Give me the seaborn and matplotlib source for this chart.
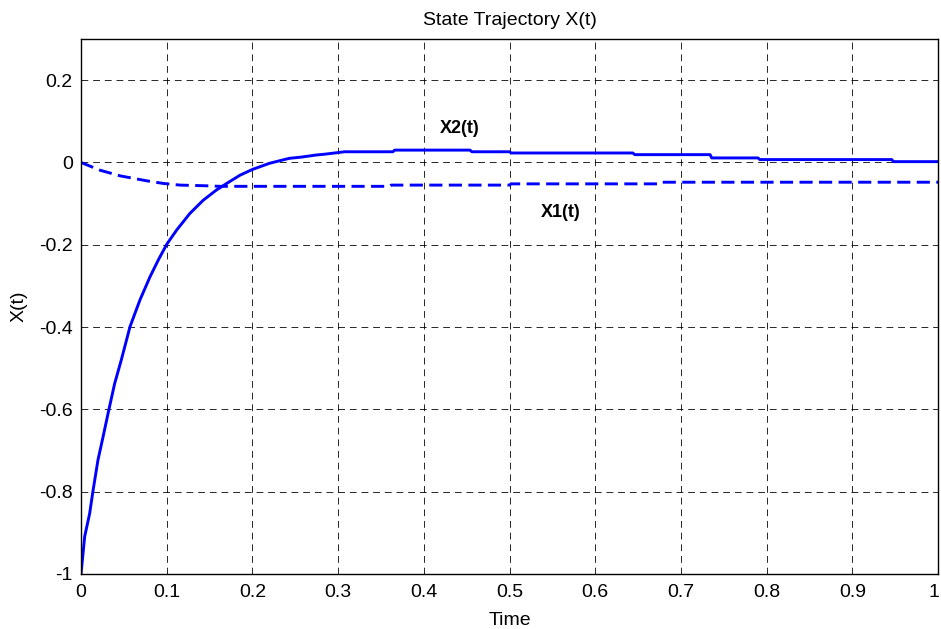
import numpy as np
import pandas as pd
import matplotlib
matplotlib.use("Agg")
import matplotlib.pyplot as plt
import matplotlib.transforms as mtransforms
import seaborn as sns

# ---- data ----
t_x2 = [0, 0.0043, 0.0101, 0.014, 0.0198, 0.0257, 0.0327, 0.0393, 0.047, 0.0572,
        0.0688, 0.0805, 0.0902, 0.100, 0.1117, 0.127, 0.1427, 0.158, 0.170, 0.1855,
        0.200, 0.220, 0.243, 0.257, 0.274, 0.284, 0.300, 0.3075, 0.364, 0.366,
        0.454, 0.456, 0.500, 0.502, 0.644, 0.646, 0.734, 0.736, 0.790, 0.792,
        0.946, 0.948, 1.0]
x2_vals = [-1.0, -0.909, -0.853, -0.798, -0.723, -0.667, -0.599, -0.537, -0.480, -0.399,
           -0.334, -0.278, -0.237, -0.199, -0.164, -0.124, -0.0916, -0.067, -0.051, -0.031,
           -0.017, -0.002, 0.010, 0.013, 0.018, 0.020, 0.024, 0.026, 0.026, 0.030,
           0.030, 0.026, 0.026, 0.023, 0.023, 0.019, 0.019, 0.011, 0.011, 0.007,
           0.007, 0.002, 0.002]

t_x1 = [0, 0.022, 0.0455, 0.0767, 0.096, 0.1155, 0.1467, 0.162,
        0.360, 0.362, 0.500, 0.502, 0.675, 0.677, 1.0]
x1_vals = [0, -0.0187, -0.0325, -0.0446, -0.051, -0.055, -0.0567, -0.058,
           -0.058, -0.055, -0.055, -0.052, -0.052, -0.048, -0.048]

x_ticks = [0, 0.1, 0.2, 0.3, 0.4, 0.5, 0.6, 0.7, 0.8, 0.9, 1.0]
x_tick_labels = ["0", "0.1", "0.2", "0.3", "0.4", "0.5", "0.6", "0.7", "0.8", "0.9", "1"]
y_ticks = [-1.0, -0.8, -0.6, -0.4, -0.2, 0.0, 0.2]
y_tick_labels = ["-1", "-0.8", "-0.6", "-0.4", "-0.2", "0", "0.2"]

title_text = "State Trajectory X(t)"
x_label = "Time"
y_label = "X(t)"
label_x2 = "X2(t)"
label_x1 = "X1(t)"

# ---- plotting ----
sns.set_style("white")
plt.rcParams["font.family"] = ["Liberation Sans", "DejaVu Sans"]
plt.rcParams["axes.unicode_minus"] = False
plt.rcParams["text.color"] = "black"
plt.rcParams["axes.labelcolor"] = "black"

df2 = pd.DataFrame({"t": t_x2, "x": x2_vals})
df1 = pd.DataFrame({"t": t_x1, "x": x1_vals})

fig = plt.figure(figsize=(9.41, 6.29), dpi=100)
ax = fig.add_axes([81 / 941, 1 - 574 / 629, (938 - 81) / 941, (574 - 39) / 629])

sns.lineplot(data=df2, x="t", y="x", ax=ax, color="#0000ff", linewidth=2.1,
             estimator=None, sort=False)
sns.lineplot(data=df1, x="t", y="x", ax=ax, color="#0000ff", linewidth=2.1,
             estimator=None, sort=False, linestyle=(0, (4.5, 2.2)))

ax.set_xlim(0, 1)
ax.set_ylim(-1, 0.3)
ax.set_xticks(x_ticks)
ax.set_xticklabels(x_tick_labels)
ax.set_yticks(y_ticks)
ax.set_yticklabels(y_tick_labels)
ax.tick_params(direction="in", length=5, width=0.8, color="black",
               labelsize=14, labelcolor="black", pad=6)
ax.tick_params(axis="x", pad=7)

# nudge the last x label a little left so it stays inside the canvas
last_lbl = ax.get_xticklabels()[-1]
last_lbl.set_transform(last_lbl.get_transform() +
                       mtransforms.ScaledTranslation(-4 / 100, 0, fig.dpi_scale_trans))

ax.grid(True, color="black", linestyle=(0, (7, 5)), linewidth=0.7, alpha=0.85)
for s in ax.spines.values():
    s.set_visible(True)
    s.set_color("black")
    s.set_linewidth(1.0)

ax.set_title(title_text, fontsize=14, pad=10, color="black")
ax.set_xlabel(x_label, fontsize=14, labelpad=8, color="black")
ax.set_ylabel(y_label, fontsize=14, labelpad=8, color="black")

ax.text(0.419, 0.0826, label_x2, fontsize=13, fontweight="bold", ha="left",
        va="center", color="black")
ax.text(0.537, -0.121, label_x1, fontsize=13, fontweight="bold", ha="left",
        va="center", color="black")

fig.savefig("out.png", dpi=100)
